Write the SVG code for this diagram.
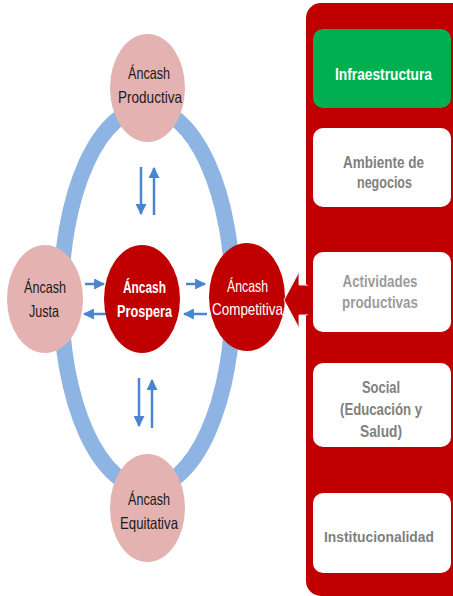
<svg xmlns="http://www.w3.org/2000/svg" width="453" height="596" viewBox="0 0 453 596">
<defs>
<style>
.pink{fill:#E4B3B1}
.red{fill:#C00000}
.t{font-family:"Liberation Sans",Arial,sans-serif;font-size:16.5px;text-anchor:middle}
.dk{fill:#1a1a1a}
.wh{fill:#ffffff}
.b{font-weight:bold}
.gr{fill:#7F7F7F;font-weight:bold}
.box{fill:#ffffff}
.ar{stroke:#4A86D0;stroke-width:2.5;fill:none}
</style>
<marker id="ah" viewBox="0 0 10 10" refX="9" refY="5" markerWidth="4.4" markerHeight="4.4" orient="auto" markerUnits="strokeWidth">
<path d="M0,0 L10,5 L0,10 z" fill="#4A86D0"/>
</marker>
</defs>
<rect width="453" height="596" fill="#ffffff"/>
<g id="ring">
<ellipse cx="147" cy="298" rx="86" ry="190" fill="none" stroke="#8EB4E3" stroke-width="16"/>
</g>
<g id="connectors">
<line class="ar" x1="141" y1="167" x2="141" y2="214" marker-end="url(#ah)"/>
<line class="ar" x1="154" y1="215" x2="154" y2="168" marker-end="url(#ah)"/>
<line class="ar" x1="139" y1="378" x2="139" y2="426" marker-end="url(#ah)"/>
<line class="ar" x1="152" y1="428" x2="152" y2="380" marker-end="url(#ah)"/>
<line class="ar" x1="85" y1="284" x2="104" y2="284" marker-end="url(#ah)"/>
<line class="ar" x1="186" y1="284" x2="205" y2="284" marker-end="url(#ah)"/>
<line class="ar" x1="107" y1="314" x2="84" y2="314" marker-end="url(#ah)"/>
<line class="ar" x1="207" y1="314" x2="184" y2="314" marker-end="url(#ah)"/>
</g>
<g id="productiva">
<ellipse class="pink" cx="147.5" cy="88" rx="37.5" ry="54"/>
<text class="t dk" x="149" y="79" textLength="42" lengthAdjust="spacingAndGlyphs">Áncash</text>
<text class="t dk" x="150" y="103" textLength="64" lengthAdjust="spacingAndGlyphs">Productiva</text>
</g>
<g id="justa">
<ellipse class="pink" cx="45" cy="299" rx="38" ry="54"/>
<text class="t dk" x="45" y="293" textLength="42" lengthAdjust="spacingAndGlyphs">Áncash</text>
<text class="t dk" x="44" y="317" textLength="30" lengthAdjust="spacingAndGlyphs">Justa</text>
</g>
<g id="prospera">
<ellipse class="red" cx="142" cy="299" rx="38" ry="54"/>
<text class="t wh b" x="144.5" y="293" textLength="43" lengthAdjust="spacingAndGlyphs">Áncash</text>
<text class="t wh b" x="144.5" y="317" textLength="55" lengthAdjust="spacingAndGlyphs">Prospera</text>
</g>
<g id="competitiva">
<ellipse class="red" cx="247" cy="297" rx="38" ry="54"/>
<text class="t wh" x="247.5" y="292" textLength="41" lengthAdjust="spacingAndGlyphs">Áncash</text>
<text class="t wh" x="247.5" y="315" textLength="71" lengthAdjust="spacingAndGlyphs">Competitiva</text>
</g>
<g id="equitativa">
<ellipse class="pink" cx="147.5" cy="508" rx="37.5" ry="54"/>
<text class="t dk" x="149" y="505" textLength="42" lengthAdjust="spacingAndGlyphs">Áncash</text>
<text class="t dk" x="149" y="529" textLength="58" lengthAdjust="spacingAndGlyphs">Equitativa</text>
</g>
<g id="panel">
<rect class="red" x="306" y="3" width="160" height="593" rx="15"/>
<polygon class="red" points="307,285 299,285 299,272 284,300 299,328 299,315 307,315" stroke="#e9e9e9" stroke-width="1"/>
<rect class="red" x="304" y="286" width="6" height="28"/>
</g>
<g id="infraestructura">
<rect x="313" y="29" width="138" height="79" rx="10" fill="#00B050"/>
<text class="t wh b" x="383.5" y="80" textLength="97" lengthAdjust="spacingAndGlyphs">Infraestructura</text>
</g>
<g id="ambiente">
<rect class="box" x="313" y="128" width="138" height="79" rx="10"/>
<text class="t gr" x="383.5" y="168" textLength="81" lengthAdjust="spacingAndGlyphs">Ambiente de</text>
<text class="t gr" x="384.5" y="188" textLength="55" lengthAdjust="spacingAndGlyphs">negocios</text>
</g>
<g id="actividades">
<rect class="box" x="313" y="252" width="138" height="80" rx="10"/>
<text class="t gr" x="380" y="287" fill-opacity="0.8" textLength="75" lengthAdjust="spacingAndGlyphs">Actividades</text>
<text class="t gr" x="380" y="308" fill-opacity="0.8" textLength="76" lengthAdjust="spacingAndGlyphs">productivas</text>
</g>
<g id="social">
<rect class="box" x="313" y="363" width="138" height="84" rx="10"/>
<text class="t gr" x="381" y="393" textLength="38" lengthAdjust="spacingAndGlyphs">Social</text>
<text class="t gr" x="381" y="415" textLength="82" lengthAdjust="spacingAndGlyphs">(Educación y</text>
<text class="t gr" x="381" y="437" textLength="42" lengthAdjust="spacingAndGlyphs">Salud)</text>
</g>
<g id="institucionalidad">
<rect class="box" x="313" y="493" width="138" height="80" rx="10"/>
<text class="t gr" x="379" y="542" style="font-size:15px" textLength="110" lengthAdjust="spacingAndGlyphs">Institucionalidad</text>
</g>
</svg>
